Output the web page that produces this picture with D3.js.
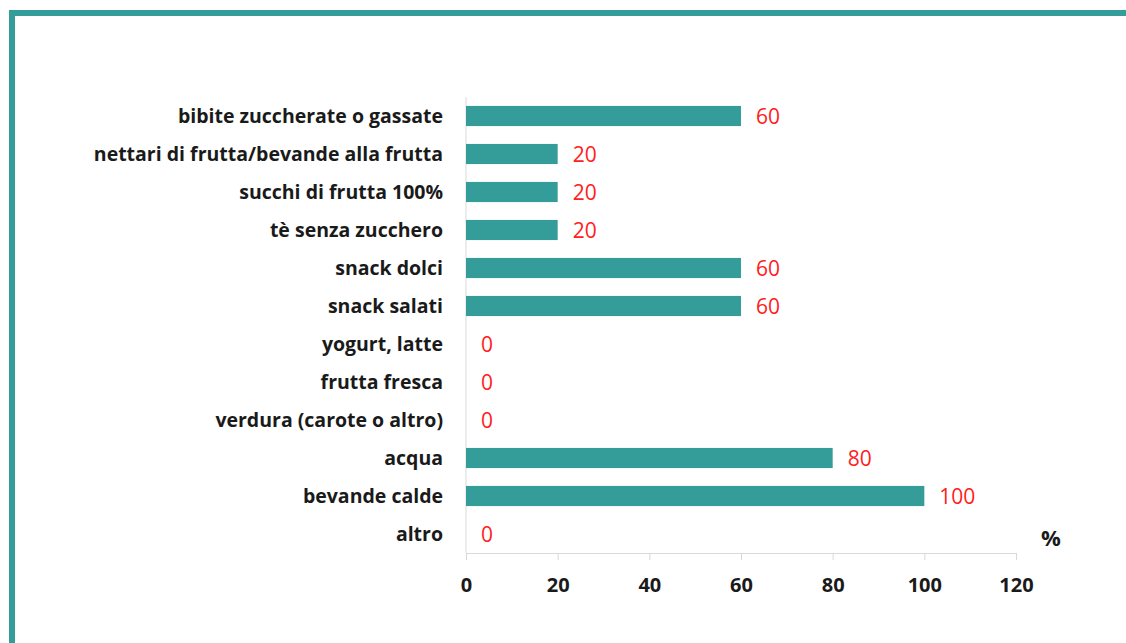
<!DOCTYPE html>
<html><head><meta charset="utf-8">
<script src="https://cdn.jsdelivr.net/npm/d3@7"></script>
<style>body{margin:0;background:#fff}svg{display:block}</style>
</head><body>
<svg id="c" width="1126" height="643"></svg>
<script>
const categories = ["bibite zuccherate o gassate","nettari di frutta/bevande alla frutta","succhi di frutta 100%","tè senza zucchero","snack dolci","snack salati","yogurt, latte","frutta fresca","verdura (carote o altro)","acqua","bevande calde","altro"];
const values = [60,20,20,20,60,60,0,0,0,80,100,0];
const xTicks = [0,20,40,60,80,100,120];

const svg = d3.select("#c");
const font = "'Open Sans', sans-serif";
const teal = "#349d99";

// frame
svg.append("rect").attr("x",9).attr("y",10).attr("width",1126).attr("height",6).attr("fill",teal);
svg.append("rect").attr("x",9).attr("y",10).attr("width",6).attr("height",640).attr("fill",teal);

const x = d3.scaleLinear().domain([0,120]).range([466,1016]);
const y = d3.scaleBand().domain(categories).range([97,553]).paddingInner(0.47).paddingOuter(0.235);

const g = svg.append("g");
g.append("line").attr("x1",x(0)).attr("x2",x(0)).attr("y1",97).attr("y2",553).attr("stroke","#d9d9d9").attr("stroke-width",1);
const xa = g.append("g").attr("transform","translate(0,553)").call(d3.axisBottom(x).tickValues(xTicks).tickSize(7).tickPadding(18));
xa.select(".domain").attr("stroke","#d9d9d9");
xa.selectAll(".tick line").attr("stroke","#d9d9d9");
xa.selectAll("text").attr("font-family",font).attr("font-weight","bold").attr("font-size",20).attr("fill","#1a1a1a");

g.selectAll("rect.bar").data(values).join("rect").attr("class","bar")
 .attr("x",x(0)).attr("y",(d,i)=>y(categories[i])).attr("width",d=>x(d)-x(0)).attr("height",y.bandwidth()).attr("fill",teal);

g.selectAll("text.val").data(values).join("text").attr("class","val")
 .attr("x",d=>x(d)+15).attr("y",(d,i)=>y(categories[i])+y.bandwidth()/2).attr("dy","0.36em")
 .attr("font-family",font).attr("font-size",21).attr("fill","#ff2020").text(d=>d);

g.selectAll("text.cat").data(categories).join("text").attr("class","cat")
 .attr("x",443).attr("y",d=>y(d)+y.bandwidth()/2).attr("dy","0.36em").attr("text-anchor","end")
 .attr("font-family",font).attr("font-weight","bold").attr("font-size",19.5).attr("fill","#1a1a1a").text(d=>d);

svg.append("text").attr("x",1041).attr("y",546).attr("font-family",font).attr("font-weight","bold").attr("font-size",22).attr("fill","#1a1a1a").text("%");
</script>
</body></html>
